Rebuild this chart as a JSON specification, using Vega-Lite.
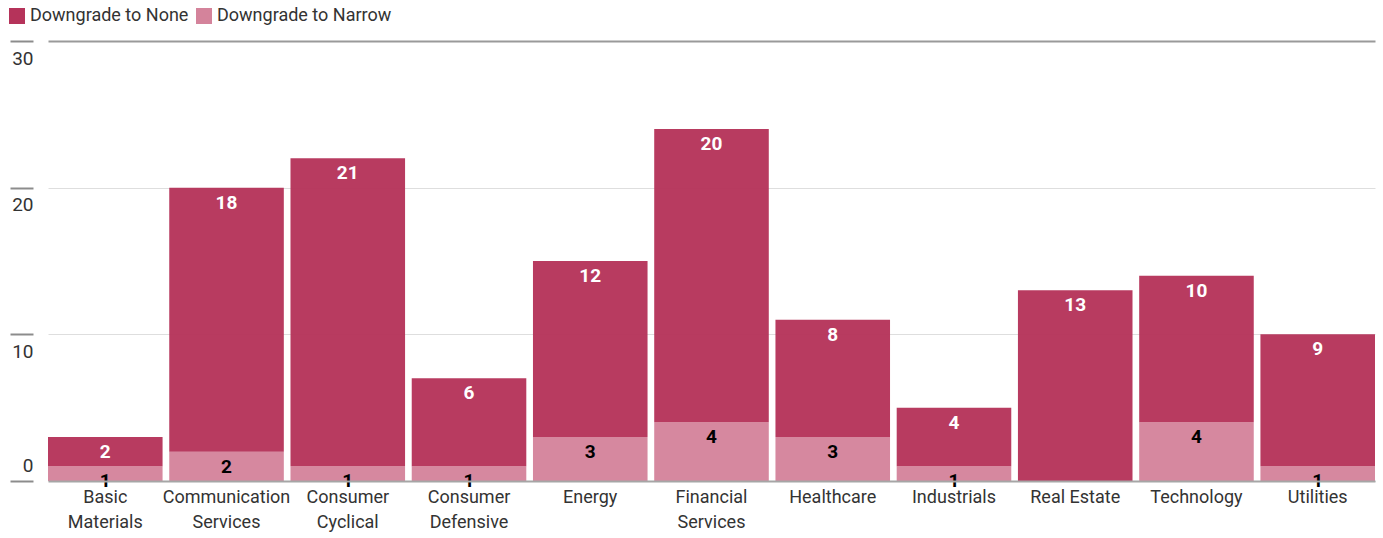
{
  "$schema": "https://vega.github.io/schema/vega-lite/v6.json",
  "width": 1327,
  "height": 440,
  "autosize": {"type": "none"},
  "padding": {"left": 48, "top": 41, "right": 8, "bottom": 57},
  "background": "white",
  "config": {
    "view": {"stroke": null},
    "font": "Roboto, sans-serif"
  },
  "data": {
    "values": [
      {"sector": "Basic Materials", "type": "Downgrade to Narrow", "value": 1},
      {"sector": "Basic Materials", "type": "Downgrade to None", "value": 2},
      {"sector": "Communication Services", "type": "Downgrade to Narrow", "value": 2},
      {"sector": "Communication Services", "type": "Downgrade to None", "value": 18},
      {"sector": "Consumer Cyclical", "type": "Downgrade to Narrow", "value": 1},
      {"sector": "Consumer Cyclical", "type": "Downgrade to None", "value": 21},
      {"sector": "Consumer Defensive", "type": "Downgrade to Narrow", "value": 1},
      {"sector": "Consumer Defensive", "type": "Downgrade to None", "value": 6},
      {"sector": "Energy", "type": "Downgrade to Narrow", "value": 3},
      {"sector": "Energy", "type": "Downgrade to None", "value": 12},
      {"sector": "Financial Services", "type": "Downgrade to Narrow", "value": 4},
      {"sector": "Financial Services", "type": "Downgrade to None", "value": 20},
      {"sector": "Healthcare", "type": "Downgrade to Narrow", "value": 3},
      {"sector": "Healthcare", "type": "Downgrade to None", "value": 8},
      {"sector": "Industrials", "type": "Downgrade to Narrow", "value": 1},
      {"sector": "Industrials", "type": "Downgrade to None", "value": 4},
      {"sector": "Real Estate", "type": "Downgrade to None", "value": 13},
      {"sector": "Technology", "type": "Downgrade to Narrow", "value": 4},
      {"sector": "Technology", "type": "Downgrade to None", "value": 10},
      {"sector": "Utilities", "type": "Downgrade to Narrow", "value": 1},
      {"sector": "Utilities", "type": "Downgrade to None", "value": 9}
    ]
  },
  "transform": [
    {"calculate": "datum.type === 'Downgrade to Narrow' ? 0 : 1", "as": "ord"},
    {"stack": "value", "groupby": ["sector"], "sort": [{"field": "ord", "order": "ascending"}], "as": ["y0", "y1"]}
  ],
  "encoding": {
    "x": {
      "field": "sector",
      "type": "nominal",
      "sort": null,
      "scale": {"paddingInner": 0.055, "paddingOuter": 0},
      "axis": {
        "title": null,
        "labelAngle": 0,
        "labelFontSize": 18,
        "labelColor": "#333333",
        "labelPadding": 7,
        "labelLineHeight": 25,
        "labelExpr": "datum.label === 'Real Estate' ? datum.label : split(datum.label, ' ')",
        "ticks": false,
        "domain": true,
        "domainColor": "#a6a6a6",
        "domainWidth": 2,
        "zindex": 1
      }
    }
  },
  "layer": [
    {
      "mark": {"type": "bar", "opacity": 0.96},
      "encoding": {
        "y": {
          "field": "y0",
          "type": "quantitative",
          "scale": {"domain": [0, 30]},
          "axis": {
            "title": null,
            "values": [0, 10, 20, 30],
            "domain": false,
            "grid": true,
            "gridColor": {"condition": {"test": "datum.value === 30", "value": "#9a9a9a"}, "value": "#dedede"},
            "gridWidth": {"condition": {"test": "datum.value === 30", "value": 2}, "value": 1},
            "offset": 15,
            "tickSize": 23,
            "tickColor": "#8c8c8c",
            "tickWidth": 2,
            "labelFontSize": 19,
            "labelColor": "#333333",
            "labelAlign": "right",
            "labelPadding": -23,
            "labelBaseline": {"condition": {"test": "datum.value === 0", "value": "bottom"}, "value": "top"},
            "labelOffset": {"condition": {"test": "datum.value === 0", "value": -6}, "value": 8}
          }
        },
        "y2": {"field": "y1"},
        "color": {
          "field": "type",
          "type": "nominal",
          "scale": {"domain": ["Downgrade to None", "Downgrade to Narrow"], "range": ["#b5335a", "#d4839b"]},
          "legend": {
            "title": null,
            "orient": "none",
            "legendX": -40,
            "legendY": -34,
            "direction": "horizontal",
            "symbolType": "square",
            "symbolSize": 256,
            "symbolOpacity": 1,
            "labelFontSize": 18,
            "labelLimit": 400,
            "labelColor": "#333333",
            "labelOffset": 4,
            "columnPadding": 6
          }
        }
      }
    },
    {
      "mark": {"type": "text", "fontSize": 19, "fontWeight": "bold", "baseline": "middle", "dy": 15},
      "encoding": {
        "y": {"field": "y1", "type": "quantitative"},
        "text": {"field": "value", "type": "quantitative"},
        "color": {
          "condition": {"test": "datum.type === 'Downgrade to None'", "value": "#ffffff"},
          "value": "#000000"
        }
      }
    }
  ]
}
